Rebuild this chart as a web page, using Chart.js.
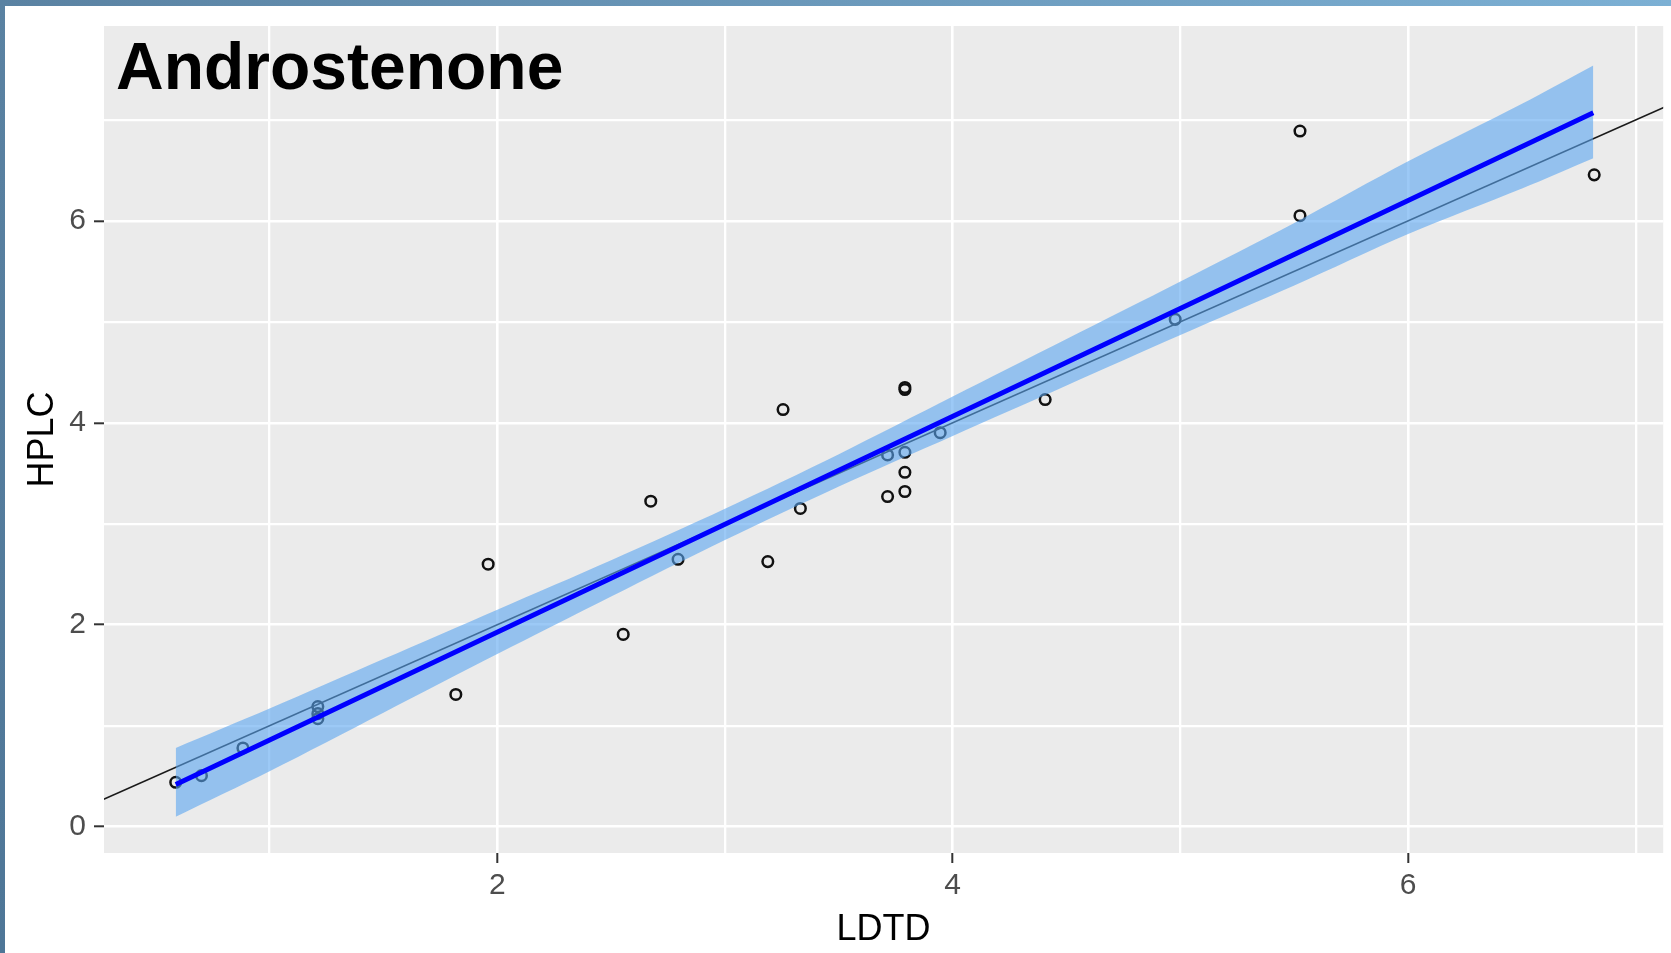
<!DOCTYPE html>
<html>
<head>
<meta charset="utf-8">
<title>Androstenone</title>
<script src="https://cdn.jsdelivr.net/npm/chart.js@4.4.1/dist/chart.umd.min.js"></script>
<style>
  html, body { margin: 0; padding: 0; background: #fff; }
  #wrap { position: relative; width: 1671px; height: 953px; overflow: hidden; }
  #wrap canvas { position: absolute; left: 0; top: 0; }
  .edge-top { position: absolute; left: 0; top: 0; width: 1671px; height: 6px; background: linear-gradient(to right, #5a82a2, #7cb0d4); }
  .edge-left { position: absolute; left: 0; top: 0; width: 5px; height: 953px; background: linear-gradient(to bottom, #5a82a2, #4e7697); }
  #title { position: absolute; left: 116px; top: 33px; font: bold 66px "Liberation Sans", Arial, sans-serif; line-height: 1; color: #000; }
</style>
</head>
<body>
<div id="wrap">
  <canvas id="chart" width="1671" height="953"></canvas>
  <div class="edge-top"></div>
  <div class="edge-left"></div>
  <div id="title">Androstenone</div>
</div>
<script>
// --- values ---
const ldtd = [0.588, 0.701, 0.883, 1.212, 1.212, 1.212, 1.818, 1.960, 2.553, 2.674, 2.794, 3.188, 3.255, 3.331,
  3.714, 3.714, 3.790, 3.790, 3.790, 3.790, 3.790, 3.945, 4.406, 4.977, 5.525, 5.525, 6.817];
const hplc = [0.440, 0.506, 0.780, 1.19, 1.12, 1.07, 1.31, 2.60, 1.905, 3.224, 2.649, 2.626, 4.132, 3.152,
  3.270, 3.682, 4.33, 4.35, 3.708, 3.510, 3.320, 3.902, 4.231, 5.025, 6.890, 6.051, 6.456];

// fitted line (blue) and its confidence band
const fitX = [0.588, 3.0, 6.813];
const fitY = [0.418, 2.996, 7.071];
const bandX = [0.588, 1, 1.5, 2, 2.5, 3, 3.5, 4, 4.5, 5, 5.5, 6, 6.5, 6.813];
const bandLow = [0.10, 0.55, 1.13, 1.71, 2.28, 2.84, 3.37, 3.87, 4.37, 4.87, 5.36, 5.87, 6.32, 6.62];
const bandHigh = [0.78, 1.17, 1.66, 2.15, 2.64, 3.15, 3.69, 4.26, 4.83, 5.40, 5.98, 6.59, 7.16, 7.54];

// identity line y = x
const refX = [0, 8];
const refY = [0, 8];

const xRange = [0.273, 7.12];
const yRange = [-0.26, 7.93];

const pts = (xs, ys) => xs.map((x, i) => ({ x, y: ys[i] }));

Chart.defaults.font.family = "'Liberation Sans', Arial, sans-serif";

// grey ggplot panel
const panelBg = {
  id: "panelBg",
  beforeDraw(chart) {
    const { ctx, chartArea: a } = chart;
    ctx.save();
    ctx.fillStyle = "#EBEBEB";
    ctx.fillRect(a.left, a.top, a.width, a.height);
    ctx.restore();
  }
};

const isMajor = (ctx) => ctx.tick && Math.round(ctx.tick.value) % 2 === 0;

function axis(range, title, titlePad, fit) {
  return {
    type: "linear",
    min: range[0],
    max: range[1],
    border: { display: false },
    grid: {
      color: "#ffffff",
      lineWidth: (ctx) => isMajor(ctx) ? 2.6 : 2.3,
      tickLength: 10,
      tickWidth: 2,
      tickColor: (ctx) => isMajor(ctx) ? "#333333" : "rgba(0,0,0,0)"
    },
    ticks: {
      stepSize: 1,
      includeBounds: false,
      autoSkip: false,
      maxRotation: 0,
      color: "#4D4D4D",
      font: { size: 30 },
      callback: (v) => Math.round(v) % 2 === 0 ? String(Math.round(v)) : ""
    },
    title: { display: true, text: title, color: "#000000", font: { size: 36 }, padding: titlePad },
    afterFit: fit
  };
}

const xAxis = axis(xRange, "LDTD", { top: 0, bottom: 1 }, (s) => { s.height = 100; });
xAxis.ticks.padding = 5;
const yAxis = axis(yRange, "HPLC", { top: 16, bottom: 0 }, (s) => { s.width = 99; });
yAxis.ticks.padding = 8;

new Chart(document.getElementById("chart"), {
  type: "scatter",
  data: {
    datasets: [
      {
        label: "fit",
        data: pts(fitX, fitY),
        showLine: true,
        borderColor: "#0000FF",
        borderWidth: 4.8,
        pointRadius: 0,
        order: 1
      },
      {
        label: "band low",
        data: pts(bandX, bandLow),
        showLine: true,
        borderWidth: 0,
        borderColor: "rgba(0,0,0,0)",
        pointRadius: 0,
        tension: 0.3,
        order: 2
      },
      {
        label: "band high",
        data: pts(bandX, bandHigh),
        showLine: true,
        borderWidth: 0,
        borderColor: "rgba(0,0,0,0)",
        backgroundColor: "rgba(90,165,240,0.6)",
        fill: "-1",
        pointRadius: 0,
        tension: 0.3,
        order: 2
      },
      {
        label: "y = x",
        data: pts(refX, refY),
        showLine: true,
        borderColor: "#1a1a1a",
        borderWidth: 1.7,
        pointRadius: 0,
        clip: 0,
        order: 3
      },
      {
        label: "samples",
        data: pts(ldtd, hplc),
        pointStyle: "circle",
        pointRadius: 5.3,
        pointBorderWidth: 2.5,
        pointBorderColor: "#111111",
        pointBackgroundColor: "rgba(0,0,0,0)",
        order: 4
      }
    ]
  },
  options: {
    responsive: false,
    devicePixelRatio: 1,
    animation: false,
    layout: { padding: { left: 5, right: 5, top: 23, bottom: 0 } },
    scales: { x: xAxis, y: yAxis },
    plugins: {
      legend: { display: false },
      tooltip: { enabled: false }
    }
  },
  plugins: [panelBg]
});
</script>
</body>
</html>
